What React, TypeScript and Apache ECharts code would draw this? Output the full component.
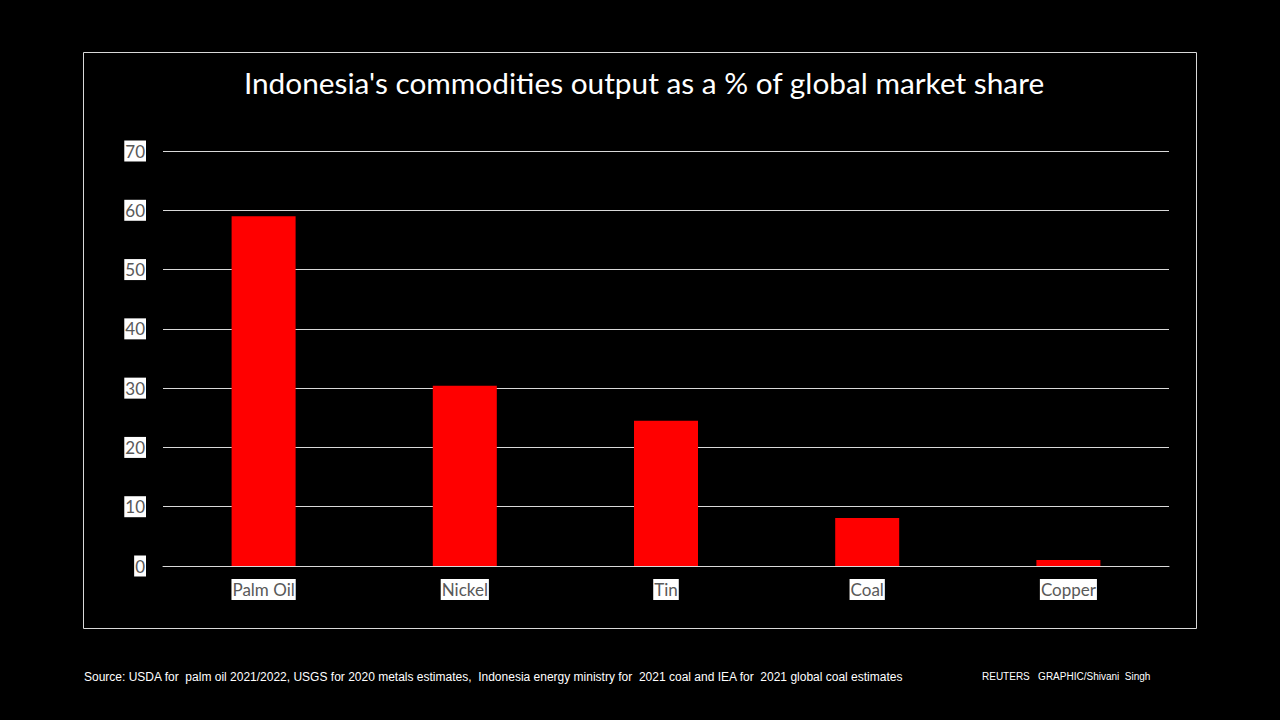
import React, { useEffect, useRef } from "react";
import * as echarts from "echarts";

const categories = ["Palm Oil", "Nickel", "Tin", "Coal", "Copper"];
const values = [59, 30.4, 24.5, 8.1, 1.0];
const yTicks = [0, 10, 20, 30, 40, 50, 60, 70];

const titleText = "Indonesia's commodities output as a % of global market share";
const sourceText =
  "Source: USDA for  palm oil 2021/2022, USGS for 2020 metals estimates,  Indonesia energy ministry for  2021 coal and IEA for  2021 global coal estimates";
const creditText = "REUTERS   GRAPHIC/Shivani  Singh";

export default function App() {
  const ref = useRef<HTMLDivElement>(null);
  useEffect(() => {
    if (!ref.current) return;
    const chart = echarts.init(ref.current, null, { renderer: "svg" });
    const labelStyle = {
      color: "#595959",
      fontFamily: "Lato, 'Open Sans', sans-serif",
      fontSize: 17,
      backgroundColor: "#ffffff",
      padding: [2, 1, 2, 1],
    };
    chart.setOption({
      animation: false,
      backgroundColor: "#000000",
      title: {
        text: titleText,
        left: 639,
        top: 62,
        textAlign: "center",
        textStyle: {
          color: "#ffffff",
          fontFamily: "Lato, 'Open Sans', sans-serif",
          fontSize: 29.8,
          fontWeight: "normal",
        },
      },
      grid: { left: 163, right: 111, top: 151, bottom: 154, containLabel: false },
      xAxis: {
        type: "category",
        data: categories,
        axisLine: { show: true, lineStyle: { color: "#d9d9d9", width: 1 } },
        axisTick: { show: false },
        axisLabel: { ...labelStyle, margin: 13 },
      },
      yAxis: {
        type: "value",
        min: yTicks[0],
        max: yTicks[yTicks.length - 1],
        interval: 10,
        axisLine: { show: false },
        axisTick: { show: false },
        splitLine: { show: true, lineStyle: { color: "#d9d9d9", width: 1 } },
        axisLabel: { ...labelStyle, margin: 17 },
      },
      series: [
        {
          type: "bar",
          data: values,
          barWidth: 64,
          itemStyle: { color: "#ff0000" },
        },
      ],
      graphic: [
        {
          type: "rect",
          shape: { x: 83.5, y: 52.5, width: 1113, height: 576 },
          style: { fill: "none", stroke: "#d9d9d9", lineWidth: 1 },
          silent: true,
        },
        {
          type: "text",
          x: 84,
          y: 671,
          style: {
            text: sourceText,
            fill: "#ffffff",
            font: "12px 'Liberation Sans', Arial, sans-serif",
          },
        },
        {
          type: "text",
          x: 982,
          y: 671,
          style: {
            text: creditText,
            fill: "#ffffff",
            font: "10px 'Liberation Sans', Arial, sans-serif",
          },
        },
      ],
    });
    return () => chart.dispose();
  }, []);
  return <div ref={ref} style={{ width: 1280, height: 720, position: "absolute", left: 0, top: 0 }} />;
}
